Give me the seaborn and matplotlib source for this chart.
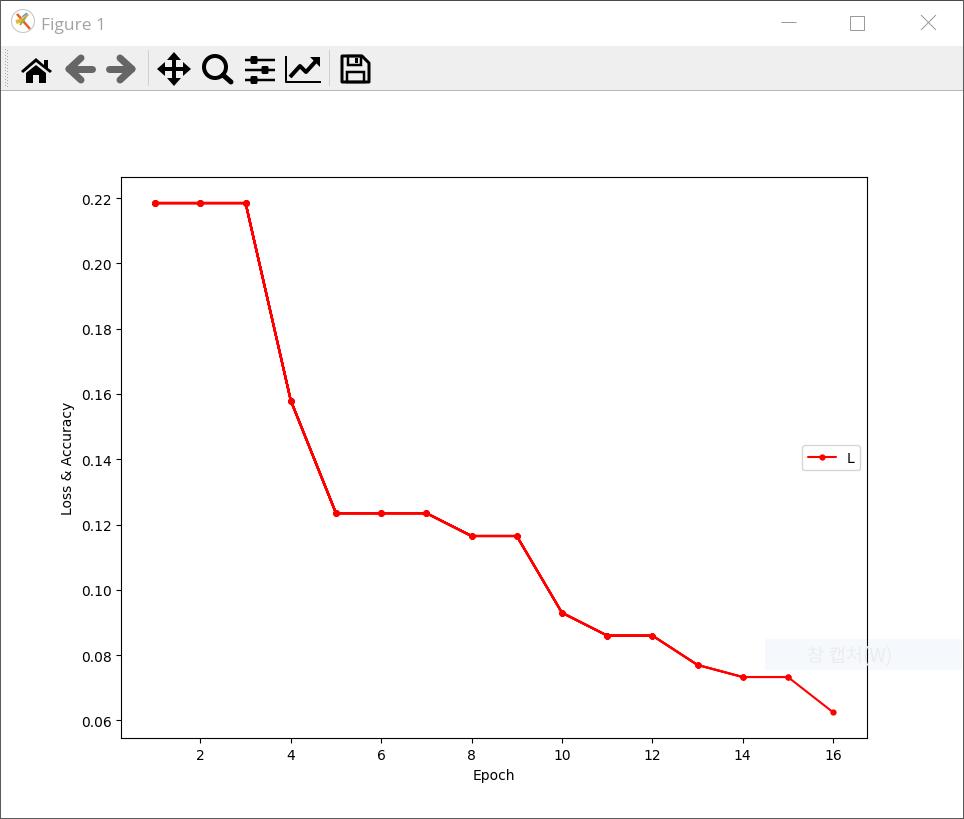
import matplotlib
matplotlib.use("Agg")
import matplotlib.pyplot as plt
from matplotlib.patches import Rectangle, Polygon, Circle, FancyBboxPatch
import seaborn as sns
import pandas as pd

epochs = [1, 2, 3, 4, 5, 6, 7, 8, 9, 10, 11, 12, 13, 14, 15, 16]
loss = [0.2185, 0.2185, 0.2185, 0.158, 0.1235, 0.1235, 0.1235, 0.1165,
        0.1165, 0.093, 0.086, 0.086, 0.077, 0.0733, 0.0733, 0.0625]
series_label = "L"
x_label = "Epoch"
y_label = "Loss & Accuracy"
window_title = "Figure 1"
capture_hint = "창 캡처(W)"

sns.set_style("ticks")
plt.rcParams["font.family"] = ["DejaVu Sans"]
plt.rcParams["axes.edgecolor"] = "black"
plt.rcParams["xtick.color"] = "black"
plt.rcParams["ytick.color"] = "black"
plt.rcParams["text.color"] = "black"
plt.rcParams["axes.labelcolor"] = "black"

W, H = 964, 820
fig = plt.figure(figsize=(W / 100, H / 100), dpi=100, facecolor="white")
ax = fig.add_axes([121.3 / W, 1 - 739.3 / H, 745.7 / W, 561 / H])
ax.set_facecolor("white")

# The training script redraws the growing curve after every epoch
df = pd.DataFrame({x_label: epochs, y_label: loss})
for n in range(2, len(epochs)):
    sub = df.iloc[:n]
    sns.lineplot(data=sub, x=x_label, y=y_label, color="red", marker="o", markersize=4.5,
                 markeredgewidth=0, linewidth=1.5, estimator=None, errorbar=None, ax=ax,
                 legend=False)
sns.lineplot(data=df, x=x_label, y=y_label, color="red", marker="o", markersize=4.5,
             markeredgewidth=0, linewidth=1.5, estimator=None, errorbar=None, ax=ax,
             label=series_label)
ax.set_xticks([2, 4, 6, 8, 10, 12, 14, 16])
ax.set_yticks([0.06, 0.08, 0.10, 0.12, 0.14, 0.16, 0.18, 0.20, 0.22])
ax.set_yticklabels([f"{v:.2f}" for v in ax.get_yticks()])
ax.set_xlim(0.25, 16.75)
ax.set_ylim(0.05453, 0.22638)
ax.tick_params(labelsize=10, length=3.5, width=0.8, direction="out")
ax.xaxis.label.set_size(10)
ax.yaxis.label.set_size(10)
for s in ax.spines.values():
    s.set_visible(True)
    s.set_linewidth(0.8)
leg = ax.legend(loc="center right", fontsize=10, frameon=True, framealpha=0.8,
                edgecolor="0.8", fancybox=True)

# ---- window chrome, drawn in pixel coordinates ----
ui = fig.add_axes([0, 0, 1, 1], zorder=5)
ui.set_xlim(0, W)
ui.set_ylim(H - 1, -1)
ui.axis("off")
ui.patch.set_alpha(0)
PX = 0.72


def rect(x, y, w, h, **kw):
    kw.setdefault("linewidth", 0)
    ui.add_patch(Rectangle((x, y), w, h, **kw))


def line(xs, ys, color="black", lw=1.0, **kw):
    ui.plot(xs, ys, color=color, linewidth=lw * PX, solid_capstyle=kw.pop("cap", "butt"), **kw)


def poly(pts, color="black", **kw):
    ui.add_patch(Polygon(pts, closed=True, facecolor=color, edgecolor="none", **kw))


# toolbar band
rect(1, 46, 962, 44, facecolor="#efefef")
rect(1, 90, 962, 1, facecolor="#b8b8b8")
for gy in range(49, 88, 3):
    rect(5, gy, 1, 1, facecolor="#a8a8a8")
    rect(7, gy + 1, 1, 1, facecolor="#a8a8a8")
rect(148, 50, 1, 36, facecolor="#cfcfcf")
rect(329, 50, 1, 36, facecolor="#cfcfcf")

# title bar
ui.add_patch(Circle((23, 21), 11.5, facecolor="white", edgecolor="#c8c8c8", linewidth=0.8))
line([17, 30], [14, 29], color="#e2622a", lw=2.5)
line([16, 23], [22, 20], color="#f0b429", lw=4)
line([23, 28], [20, 14], color="#e8a33a", lw=2.5)
line([20, 25], [25, 18], color="#8ab84a", lw=2)
line([22, 27], [17, 13], color="#5aa0d8", lw=1.5)
ui.text(41, 25, window_title, fontsize=12.5, color="#a3a3a3", family="Open Sans",
        va="center", ha="left")
line([781, 796], [22, 22], color="#9a9a9a", lw=1)
ui.add_patch(Rectangle((850, 15.5), 14, 14, facecolor="none", edgecolor="#9a9a9a", linewidth=PX))
line([921, 936], [15, 30], color="#9a9a9a", lw=1)
line([921, 936], [30, 15], color="#9a9a9a", lw=1)

# home
poly([(21, 71), (36, 58), (44, 65), (44, 60), (48, 60), (48, 68), (52, 71), (50, 73), (36, 62), (23, 73)])
poly([(26, 73), (36, 65), (46, 73), (46, 83), (39, 83), (39, 75), (33, 75), (33, 83), (26, 83)])

# back / forward arrows
gray = "#666666"
line([71, 92], [69, 69], color=gray, lw=7, cap="round")
line([81, 69], [58, 69], color=gray, lw=7, cap="round")
line([81, 69], [80, 69], color=gray, lw=7, cap="round")
line([109, 130], [69, 69], color=gray, lw=7, cap="round")
line([120, 132], [58, 69], color=gray, lw=7, cap="round")
line([120, 132], [80, 69], color=gray, lw=7, cap="round")

# pan
line([160, 188], [69, 69], lw=4)
line([174, 174], [55, 83], lw=4)
poly([(174, 52), (181, 60), (167, 60)])
poly([(174, 86), (181, 78), (167, 78)])
poly([(157, 69), (165, 62), (165, 76)])
poly([(191, 69), (183, 62), (183, 76)])

# zoom
ui.add_patch(Circle((215, 67), 11, facecolor="none", edgecolor="black", linewidth=4 * PX))
line([223, 231], [75, 82], lw=5, cap="round")

# sliders
for yy, kx in zip([60, 70, 80], [254, 265, 254]):
    line([245, 275], [yy, yy], lw=2.5)
    ui.add_patch(FancyBboxPatch((kx - 3, yy - 3.5), 6, 7, boxstyle="round,pad=0.5,rounding_size=1.5",
                                facecolor="black", edgecolor="none"))

# chart icon
line([285.5, 285.5, 321, 321], [56, 82, 82, 82], lw=2)
line([290, 300, 306, 316], [77, 66, 72, 61], lw=4)
poly([(310, 57), (320, 57), (320, 67)])

# save icon (outlined floppy)
ui.add_patch(Polygon([(342, 56), (362, 56), (369, 63), (369, 82), (342, 82)], closed=True,
                     facecolor="#efefef", edgecolor="black", linewidth=3 * PX, joinstyle="round"))
ui.add_patch(Rectangle((348, 56), 13, 9, facecolor="none", edgecolor="black", linewidth=2.5 * PX))
rect(355, 58, 3, 5, facecolor="black")
ui.add_patch(Rectangle((347, 72), 17, 10, facecolor="none", edgecolor="black", linewidth=2.5 * PX))

# capture tooltip overlay
rect(765, 639, 197, 31, facecolor="#0078d7", alpha=0.04)
ui.text(850, 656, capture_hint, fontsize=13.5, color="#ececec",
        family=["Noto Sans CJK KR", "DejaVu Sans"], ha="center", va="center")

# window border
rect(0, -1, W, 2, facecolor="#4a4a4a")
rect(0, -1, 1, H + 1, facecolor="#5a5a5a")
rect(W - 1, -1, 1, H + 1, facecolor="#5a5a5a")
rect(0, H - 2, W, 1, facecolor="#5a5a5a")

fig.savefig("out.png", dpi=100, facecolor="white")
